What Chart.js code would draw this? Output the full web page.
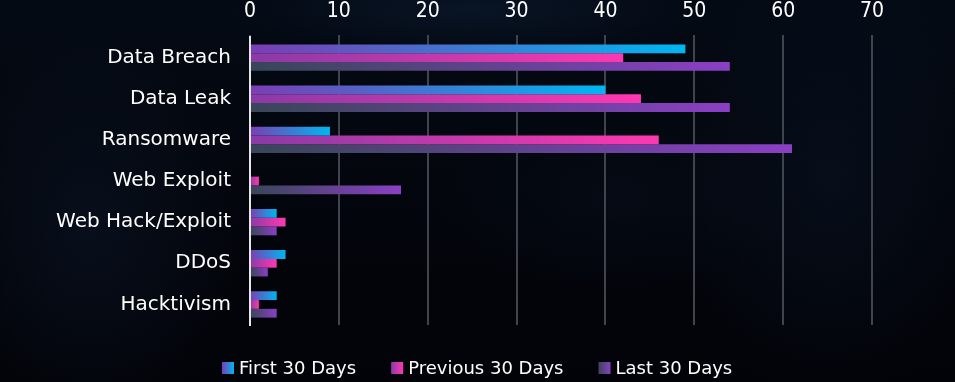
<!DOCTYPE html>
<html><head><meta charset="utf-8">
<script src="https://cdn.jsdelivr.net/npm/chart.js@4"></script>
<style>
html,body{margin:0;padding:0;width:955px;height:382px;overflow:hidden;background:#020409;}
#wrap{position:relative;width:955px;height:382px;
background:
 radial-gradient(ellipse 240px 45px at 470px 10px, rgba(14,32,58,0.45), rgba(14,32,58,0) 100%),
 radial-gradient(ellipse 150px 200px at 90px 230px, rgba(14,26,46,0.45), rgba(14,26,46,0) 100%),
 radial-gradient(ellipse 160px 220px at 830px 180px, rgba(12,24,44,0.40), rgba(12,24,44,0) 100%),
 radial-gradient(ellipse 180px 90px at 620px 200px, rgba(10,20,38,0.30), rgba(10,20,38,0) 100%),
 linear-gradient(180deg,#040a14 0%,#03060d 45%,#020308 100%);}
canvas{position:absolute;left:0;top:0;}
</style></head><body><div id="wrap"><canvas id="c" width="955" height="382"></canvas></div>
<script>
const categories = ["Data Breach","Data Leak","Ransomware","Web Exploit","Web Hack/Exploit","DDoS","Hacktivism"];
const seriesNames = ["First 30 Days","Previous 30 Days","Last 30 Days"];
const firstDays = [49,40,9,0,3,4,3];
const previousDays = [42,44,46,1,4,3,1];
const lastDays = [54,54,61,17,3,2,3];
const xTickValues = [0,10,20,30,40,50,60,70];

const gradStops = [["#7b3db3","#00b6f2"],["#8a3aa6","#ff38b0"],["#384658","#8b3fc5"]];
const FONT = "'DejaVu Sans', sans-serif";
const NUMFONT = "'Liberation Sans Narrow','DejaVu Sans Condensed','DejaVu Sans', sans-serif";

function barGrad(i){
  return (ctx)=>{
    const chart = ctx.chart, x = chart.scales.x;
    if (ctx.type !== 'data' || !x || !chart.chartArea) return gradStops[i][1];
    const x0 = x.getPixelForValue(0), x1 = x.getPixelForValue(ctx.raw);
    if (x1 - x0 < 1) return gradStops[i][1];
    const g = chart.ctx.createLinearGradient(x0,0,x1,0);
    g.addColorStop(0, gradStops[i][0]); g.addColorStop(1, gradStops[i][1]);
    return g;
  };
}

// custom legend centred under the chart
const customLegend = {
  id:'customLegend',
  afterDraw(chart){
    const c = chart.ctx, box = 12, gapBox = 5, gapItem = 35, cy = 368;
    c.save();
    c.font = "18px " + FONT;
    c.textBaseline = 'middle';
    const items = chart.data.datasets.map((d,i)=>({text:d.label, w:c.measureText(d.label).width, i}));
    const total = items.reduce((s,it)=>s+box+gapBox+it.w,0) + gapItem*(items.length-1);
    let x = Math.round(chart.width/2 - total/2);
    items.forEach(it=>{
      const g = c.createLinearGradient(x,0,x+box,0);
      g.addColorStop(0, gradStops[it.i][0]); g.addColorStop(1, gradStops[it.i][1]);
      c.fillStyle = g; c.fillRect(x, cy - box/2, box, box);
      c.fillStyle = '#ffffff'; c.fillText(it.text, x + box + gapBox, cy + 1);
      x += box + gapBox + it.w + gapItem;
    });
    c.restore();
  }
};

new Chart(document.getElementById('c'), {
  type:'bar',
  data:{
    labels: categories,
    datasets:[
      {label:seriesNames[0], data:firstDays, backgroundColor:barGrad(0)},
      {label:seriesNames[1], data:previousDays, backgroundColor:barGrad(1)},
      {label:seriesNames[2], data:lastDays, backgroundColor:barGrad(2)}
    ]
  },
  options:{
    indexAxis:'y', responsive:false, animation:false,
    layout:{padding:{left:0,right:83,top:0,bottom:57}},
    datasets:{bar:{barPercentage:1, categoryPercentage:0.64, borderWidth:0}},
    scales:{
      x:{position:'top', min:0, max:70,
        afterBuildTicks(s){ s.ticks = xTickValues.map(v=>({value:v})); },
        afterFit(s){ s.height = 37; },
        ticks:{color:'#ffffff', font:{family:NUMFONT, size:21}, padding:11},
        grid:{color:'#41444d', lineWidth:2, drawTicks:true, tickLength:2, tickColor:'#41444d'},
        border:{display:false}},
      y:{position:'left',
        afterFit(s){ s.width = 250; },
        ticks:{color:'#ffffff', font:{family:FONT, size:20}, padding:11},
        grid:{display:false},
        border:{display:true, color:'#e6e6e6', width:2}}
    },
    plugins:{
      legend:{display:false},
      tooltip:{enabled:false}
    }
  },
  plugins:[customLegend]
});
</script></body></html>
